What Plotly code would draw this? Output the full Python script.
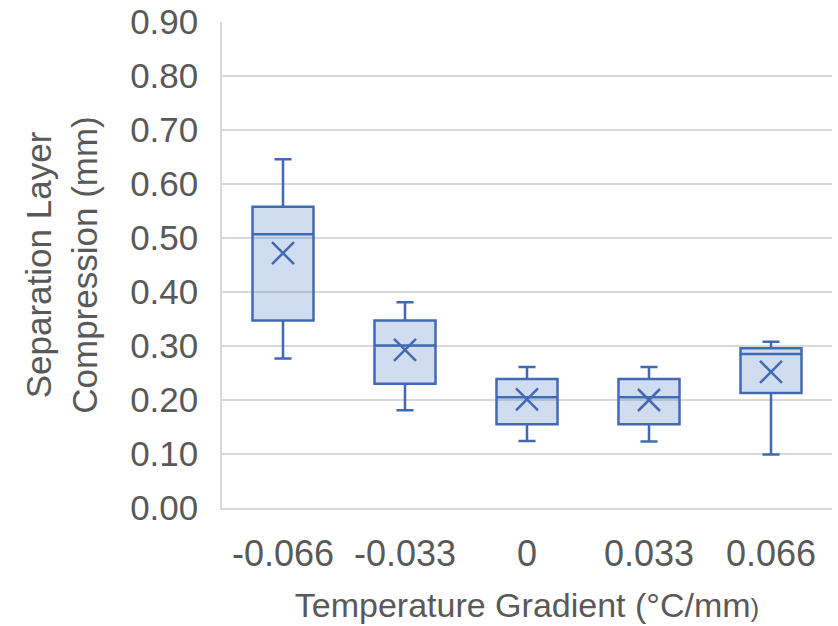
import plotly.graph_objects as go

# Temperature gradient categories (°C/mm)
gradients = ["-0.066", "-0.033", "0", "0.033", "0.066"]

# Box statistics of separation layer compression (mm)
upper_whisker = [0.646, 0.381, 0.261, 0.261, 0.308]
q3_values = [0.558, 0.347, 0.239, 0.239, 0.296]
median_values = [0.507, 0.301, 0.205, 0.205, 0.285]
mean_values = [0.472, 0.293, 0.201, 0.200, 0.252]
q1_values = [0.347, 0.230, 0.155, 0.155, 0.213]
lower_whisker = [0.277, 0.181, 0.124, 0.123, 0.099]

y_ticks = [round(0.1 * i, 2) for i in range(10)]

LINE = "#4169B4"
FILL = "rgba(68,114,196,0.25)"
TEXT = "#595959"
GRID = "#D9D9D9"
FONT = "Liberation Sans, Arial, sans-serif"

fig = go.Figure()

fig.add_trace(go.Box(
    x=gradients,
    q1=q1_values,
    median=median_values,
    q3=q3_values,
    lowerfence=lower_whisker,
    upperfence=upper_whisker,
    boxpoints=False,
    line=dict(color=LINE, width=2.5),
    fillcolor=FILL,
    whiskerwidth=0.28,
    showlegend=False,
    hoverinfo="skip",
))

fig.add_trace(go.Scatter(
    x=gradients,
    y=mean_values,
    mode="markers",
    marker=dict(symbol="x-thin", size=22, line=dict(color=LINE, width=2.5)),
    showlegend=False,
    hoverinfo="skip",
))

fig.update_layout(
    width=838,
    height=626,
    margin=dict(l=222, r=6, t=22, b=118),
    paper_bgcolor="white",
    plot_bgcolor="white",
    font=dict(family=FONT, color=TEXT, size=34),
    boxgap=0.5,
    boxgroupgap=0,
)

fig.update_xaxes(
    type="category",
    range=[-0.5, 4.5],
    automargin=False,
    showgrid=False,
    showline=True,
    linecolor=GRID,
    linewidth=1.5,
    zeroline=False,
    ticks="",
    ticklabelstandoff=13,
    tickfont=dict(size=36, color=TEXT),
    title=dict(
        text='Temperature Gradient (°C/mm<span style="font-size:26px">)</span>',
        font=dict(size=34, color=TEXT),
        standoff=20,
    ),
)

fig.update_yaxes(
    range=[0, 0.9],
    automargin=False,
    tickvals=y_ticks,
    ticktext=[f"{v:.2f}" for v in y_ticks],
    showgrid=True,
    gridcolor=GRID,
    gridwidth=1.5,
    showline=True,
    linecolor=GRID,
    linewidth=1.5,
    zeroline=False,
    ticks="",
    ticklabelstandoff=15,
    tickfont=dict(size=35, color=TEXT),
    title=dict(
        text="Separation Layer<br>Compression (mm)",
        font=dict(size=35, color=TEXT),
        standoff=22,
    ),
)

fig.write_html("out.html")
